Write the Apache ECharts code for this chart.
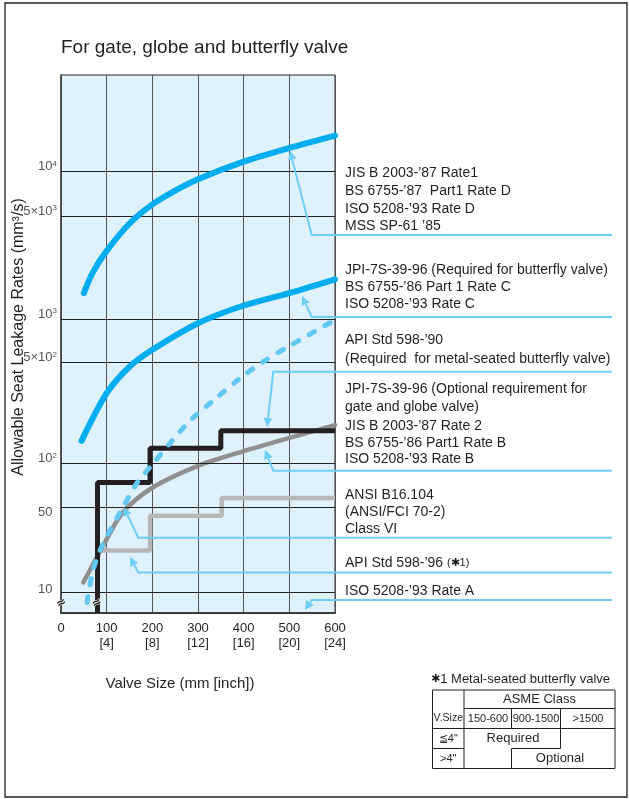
<!DOCTYPE html>
<html>
<head>
<meta charset="utf-8">
<script src="https://cdn.jsdelivr.net/npm/echarts@6/dist/echarts.min.js"></script>
<style>html,body{margin:0;padding:0;background:#fff}#c{width:629px;height:799px}</style>
</head>
<body>
<div id="c"></div>
<script>
// ---------------- DATA ----------------
// valve size (mm) and leakage rate (mm3/s)
const sizesRateD = [50, 70, 100, 150, 200, 250, 300, 400, 500, 600];
const ratesRateD = [1500, 2080, 2900, 4450, 6000, 7450, 8900, 11700, 14500, 17600];

const sizesRateC = [45, 100, 150, 200, 300, 400, 500, 600];
const ratesRateC = [143, 306, 467, 612, 935, 1235, 1500, 1860];

const sizesAPI90 = [57, 70, 92, 136, 166, 202, 239, 283, 337, 392, 443, 500, 600];
const ratesAPI90 = [5, 15, 25, 50, 73, 100, 138, 198, 278, 388, 506, 650, 984];

const sizesJPIopt = [80, 80, 195, 350, 600];
const ratesJPIopt = [0, 74, 127, 168, 168];

const sizesRateB = [49, 96, 136, 200, 300, 402, 500, 600];
const ratesRateB = [12, 25.6, 45.7, 68, 96, 122, 150, 184];

const sizesANSI = [80, 195, 352, 600];
const ratesANSI = [22, 42.5, 58, 58];

// axis ticks
const xTicks = [0, 100, 200, 300, 400, 500, 600];
const xInch = ['', '4', '8', '12', '16', '20', '24'];
const yTickValues = [10, 50, 100, 500, 1000, 5000, 10000];
const yTickBase = ['10', '50', '10', '5\u00d710', '10', '5\u00d710', '10'];
const yTickExp = ['', '', '2', '2', '3', '3', '4'];

// ---------------- broken log scale (axis units) ----------------
const knotValues = [0, 10, 50, 100, 1000, 10000];
const knotPos = [0, 21, 105.7, 149.7, 294, 441.3];
const Y_MAX = 538;
function toAxis(v) {
  if (v <= knotValues[1]) return v / knotValues[1] * knotPos[1];
  for (let i = 1; i < knotValues.length - 1; i++) {
    if (v <= knotValues[i + 1] || i === knotValues.length - 2) {
      const l0 = Math.log10(knotValues[i]), l1 = Math.log10(knotValues[i + 1]);
      return knotPos[i] + (Math.log10(v) - l0) / (l1 - l0) * (knotPos[i + 1] - knotPos[i]);
    }
  }
}
const pair = (xs, ys) => xs.map((x, i) => [x, toAxis(ys[i])]);

// ---------------- styles / layout ----------------
const FONT = '"Liberation Sans", Arial, Helvetica, sans-serif';
const TXT = '#231f20';
const BLUE = '#00aeef';
const LBLUE = '#62c9f3';
const LEAD = '#6dcff6';
const labelOffsets = { '50': [0, 5], '10': [0, -3] };

const grid = { left: 61, right: 294, top: 75, bottom: 186 };

const legendX = 345;
const legendLines = [
  ['JIS B 2003-\u201987 Rate1', 173.5],
  ['BS 6755-\u201987  Part1 Rate D', 191.5],
  ['ISO 5208-\u201993 Rate D', 209],
  ['MSS SP-61 \u201985', 226.5],
  ['JPI-7S-39-96 (Required for butterfly valve)', 270.5],
  ['BS 6755-\u201986 Part 1 Rate C', 287],
  ['ISO 5208-\u201993 Rate C', 304],
  ['API Std 598-\u201990', 340.5],
  ['(Required  for metal-seated butterfly valve)', 359],
  ['JPI-7S-39-96 (Optional requirement for', 389.5],
  ['gate and globe valve)', 407.5],
  ['JIS B 2003-\u201987 Rate 2', 426],
  ['BS 6755-\u201986 Part1 Rate B', 443],
  ['ISO 5208-\u201993 Rate B', 459.5],
  ['ANSI B16.104', 495],
  ['(ANSI/FCI 70-2)', 512],
  ['Class VI', 529.5],
  ['ISO 5208-\u201993 Rate A', 591]
];
const leaders = [
  [[612, 235], [311.7, 235], [290, 151]],
  [[612, 317], [311.7, 317], [302, 296]],
  [[612, 371.7], [273.3, 371.7], [267, 427]],
  [[612, 470.7], [273.3, 470.7], [265, 450]],
  [[612, 537.7], [138.3, 537.7], [123.5, 507]],
  [[612, 572.5], [138.3, 572.5], [130, 557]],
  [[612, 600], [311.7, 600], [305, 610]]
];

// ---------------- graphic elements ----------------
const g = [];
g.push({ type: 'rect', shape: { x: 5, y: 3, width: 622, height: 794 }, style: { fill: null, stroke: '#231f20', lineWidth: 1.3 }, z: 0 });
g.push({ type: 'text', x: 61, y: 48, style: { text: 'For gate, globe and butterfly valve', font: '19px ' + FONT, fill: TXT, align: 'left', textAlign: 'left', verticalAlign: 'middle', textVerticalAlign: 'middle' } });
g.push({ type: 'text', x: 19, y: 337, rotation: Math.PI / 2, style: { text: 'Allowable Seat Leakage Rates (mm\u00b3/s)', font: '16px ' + FONT, fill: TXT, align: 'center', textAlign: 'center', verticalAlign: 'middle', textVerticalAlign: 'middle' } });
g.push({ type: 'text', x: 180, y: 684, style: { text: 'Valve Size (mm [inch])', font: '15px ' + FONT, fill: TXT, align: 'center', textAlign: 'center', verticalAlign: 'middle', textVerticalAlign: 'middle' } });
legendLines.forEach(([t, y]) => {
  g.push({ type: 'text', x: legendX, y: y, style: { text: t, font: '14px ' + FONT, fill: TXT, align: 'left', textAlign: 'left', verticalAlign: 'middle', textVerticalAlign: 'middle' } });
});
g.push({ type: 'text', x: legendX, y: 563, style: { text: '{a|API Std 598-\u201996 }{b|(\u27311)}', rich: { a: { fontSize: 14, fontFamily: FONT, fill: TXT }, b: { fontSize: 11, fontFamily: FONT, fill: TXT } }, fill: TXT, align: 'left', textAlign: 'left', verticalAlign: 'middle', textVerticalAlign: 'middle' } });
leaders.forEach(pts => {
  const P = pts[pts.length - 1], Q = pts[pts.length - 2];
  let dx = P[0] - Q[0], dy = P[1] - Q[1];
  const L = Math.hypot(dx, dy); dx /= L; dy /= L;
  const B = [P[0] - dx * 9, P[1] - dy * 9];
  const line = pts.slice(0, -1).concat([B]);
  g.push({ type: 'polyline', shape: { points: line }, style: { stroke: LEAD, lineWidth: 2, fill: null }, z: 20 });
  g.push({ type: 'polygon', shape: { points: [P, [B[0] - dy * 4.5, B[1] + dx * 4.5], [B[0] + dy * 4.5, B[1] - dx * 4.5]] }, style: { fill: LEAD }, z: 20 });
});
// break marks
[[61.5, 603], [97, 603]].forEach(([x, y]) => {
  g.push({ type: 'text', x: x, y: y, rotation: 0.5, style: { text: '\u2248', font: 'bold 12px "DejaVu Sans", sans-serif', fill: '#231f20', stroke: '#fff', lineWidth: 1, align: 'center', textAlign: 'center', verticalAlign: 'middle', textVerticalAlign: 'middle' }, z: 30 });
});
// footnote table
g.push({ type: 'text', x: 431, y: 679, style: { text: '{a|\u2731}{b|1 Metal-seated butterfly valve}', rich: { a: { fontSize: 11, fontFamily: '"DejaVu Sans", sans-serif', fill: TXT }, b: { fontSize: 13, fontFamily: FONT, fill: TXT } }, fill: TXT, align: 'left', textAlign: 'left', verticalAlign: 'middle', textVerticalAlign: 'middle' } });
const tl = (x1, y1, x2, y2) => g.push({ type: 'line', shape: { x1, y1, x2, y2 }, style: { stroke: '#231f20', lineWidth: 1 } });
g.push({ type: 'rect', shape: { x: 432.5, y: 690, width: 182.5, height: 78.5 }, style: { fill: null, stroke: '#231f20', lineWidth: 1 } });
tl(464, 708.5, 615, 708.5);
tl(432.5, 728.5, 615, 728.5);
tl(432.5, 748.5, 464, 748.5);
tl(511.5, 748.5, 560.5, 748.5);
tl(464, 690, 464, 768.5);
tl(511.5, 708.5, 511.5, 728.5);
tl(511.5, 748.5, 511.5, 768.5);
tl(560.5, 708.5, 560.5, 748.5);
const tt = (t, x, y, size) => g.push({ type: 'text', x, y, style: { text: t, font: size + 'px ' + FONT, fill: TXT, align: 'center', textAlign: 'center', verticalAlign: 'middle', textVerticalAlign: 'middle' } });
tt('ASME Class', 539.5, 699.5, 13);
tt('V.Size', 448.3, 718.5, 10.5);
tt('150-600', 488, 718.5, 11);
tt('900-1500', 536, 718.5, 11);
tt('>1500', 588, 718.5, 11);
tt('Required', 513, 738.5, 13);
tt('Optional', 560, 758.5, 13);
tt('\u22664"', 448.3, 738.5, 11);
tt('>4"', 448.3, 758.5, 11);

// ---------------- chart ----------------
const chart = echarts.init(document.getElementById('c'));
const lineBase = { type: 'line', symbol: 'none', smooth: 0.3, clip: true, silent: true };
chart.setOption({
  animation: false,
  backgroundColor: '#fff',
  grid: Object.assign({ show: true, backgroundColor: '#dff1fb', borderColor: '#231f20', borderWidth: 1 }, grid),
  xAxis: {
    type: 'value', min: 0, max: 600, interval: 100,
    axisLine: { show: true, lineStyle: { color: '#3a3a3a', width: 2 } },
    axisTick: { show: false },
    splitLine: { show: true, lineStyle: { color: '#555', width: 1 } },
    axisLabel: {
      margin: 8, color: TXT, fontSize: 13, lineHeight: 15, fontFamily: FONT,
      formatter: v => { const i = xTicks.indexOf(v); return xInch[i] ? v + '\n[' + xInch[i] + ']' : String(v); }
    }
  },
  yAxis: {
    type: 'value', min: 0, max: Y_MAX,
    axisLine: { show: true, lineStyle: { color: '#444', width: 1.5 } },
    axisTick: { show: false }, axisLabel: { show: false }, splitLine: { show: false }
  },
  series: [
    {
      type: 'scatter', symbolSize: 1, itemStyle: { color: 'rgba(0,0,0,0)' }, clip: false, silent: true, z: 1,
      label: {
        show: true, position: 'left', color: TXT, fontFamily: FONT,
        rich: { b: { fontSize: 13, fontFamily: FONT, color: TXT, lineHeight: 14 }, s: { fontSize: 8, fontFamily: FONT, color: TXT, verticalAlign: 'top', lineHeight: 10 } }
      },
      data: yTickValues.map((v, i) => ({
        value: [0, toAxis(v)],
        label: {
          formatter: '{b|' + yTickBase[i] + '}' + (yTickExp[i] ? '{s|' + yTickExp[i] + '}' : ''),
          distance: yTickExp[i] ? 3.5 : 8,
          offset: labelOffsets[yTickBase[i] + yTickExp[i]] || [0, -5]
        }
      })),
      markLine: {
        silent: true, symbol: ['none', 'none'], animation: false,
        label: { show: false },
        lineStyle: { color: '#222', width: 1, type: 'solid' },
        data: yTickValues.map(v => ({ yAxis: toAxis(v) }))
      }
    },
    Object.assign({}, lineBase, { name: 'ANSI B16.104 Class VI', smooth: false, step: 'end', data: pair(sizesANSI, ratesANSI), lineStyle: { color: '#b7b7b7', width: 4.5 }, z: 3 }),
    Object.assign({}, lineBase, { name: 'ISO 5208 Rate B', data: pair(sizesRateB, ratesRateB), lineStyle: { color: '#8f8f8f', width: 4.5, cap: 'round' }, z: 4 }),
    Object.assign({}, lineBase, { name: 'JPI-7S-39-96 optional', smooth: false, step: 'end', data: pair(sizesJPIopt, ratesJPIopt), lineStyle: { color: '#231f20', width: 5 }, z: 5 }),
    Object.assign({}, lineBase, { name: "API Std 598-'90", data: pair(sizesAPI90, ratesAPI90), lineStyle: { color: LBLUE, width: 5, type: [6, 12], cap: 'round' }, z: 6 }),
    Object.assign({}, lineBase, { name: 'Rate C', data: pair(sizesRateC, ratesRateC), lineStyle: { color: BLUE, width: 6, cap: 'round' }, z: 7 }),
    Object.assign({}, lineBase, { name: 'Rate D', data: pair(sizesRateD, ratesRateD), lineStyle: { color: BLUE, width: 6, cap: 'round' }, z: 7 })
  ],
  graphic: { elements: g }
});
</script>
</body>
</html>
